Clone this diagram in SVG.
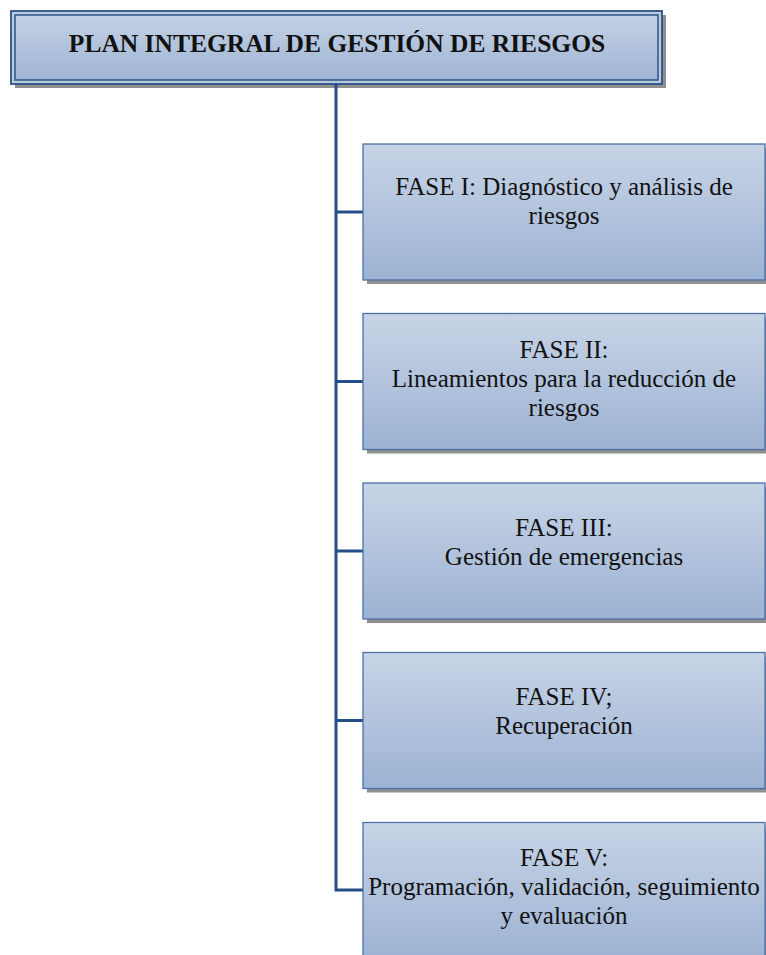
<svg xmlns="http://www.w3.org/2000/svg" width="766" height="955" viewBox="0 0 766 955">
  <defs>
    <linearGradient id="boxGrad" x1="0" y1="0" x2="0" y2="1">
      <stop offset="0" stop-color="#C7D4E6"/>
      <stop offset="1" stop-color="#9DB3D3"/>
    </linearGradient>
    <linearGradient id="titleGrad" x1="0" y1="0" x2="0" y2="1">
      <stop offset="0" stop-color="#C3D1E4"/>
      <stop offset="1" stop-color="#9FB5D4"/>
    </linearGradient>
  </defs>
  <style>
    .shadow { fill: #8F8F8F; }
    .box { fill: url(#boxGrad); stroke: #4A70A6; stroke-width: 1.3; }
    .title-outer { fill: #BACADF; stroke: #2E5185; stroke-width: 1.8; }
    .title-inner { fill: url(#titleGrad); stroke: #36598C; stroke-width: 1.6; }
    .conn { fill: none; stroke: #254E88; stroke-width: 3; }
    .t { font-family: "Liberation Serif", "Times New Roman", serif; font-size: 25px; fill: #111111; text-anchor: middle; }
    .tb { font-family: "Liberation Serif", "Times New Roman", serif; font-size: 25.5px; font-weight: bold; fill: #111111; text-anchor: middle; }
  </style>

  <g id="title">
    <rect class="shadow" x="15" y="15" width="651" height="73"/>
    <rect class="title-outer" x="11" y="11" width="651" height="73"/>
    <rect class="title-inner" x="15" y="15" width="643" height="65"/>
    <text class="tb" x="337" y="52">PLAN INTEGRAL DE GESTIÓN DE RIESGOS</text>
  </g>

  <g id="connectors">
    <path class="conn" d="M336 84 V890 H363"/>
    <path class="conn" d="M336 212 H363"/>
    <path class="conn" d="M336 381.5 H363"/>
    <path class="conn" d="M336 551 H363"/>
    <path class="conn" d="M336 720.5 H363"/>
  </g>

  <g id="fase1">
    <rect class="shadow" x="367" y="148" width="402" height="136"/>
    <rect class="box" x="363" y="144" width="402" height="136"/>
    <text class="t" x="564" y="195">FASE I: Diagnóstico y análisis de</text>
    <text class="t" x="564" y="224">riesgos</text>
  </g>

  <g id="fase2">
    <rect class="shadow" x="367" y="317.5" width="402" height="136"/>
    <rect class="box" x="363" y="313.5" width="402" height="136"/>
    <text class="t" x="564" y="358">FASE II:</text>
    <text class="t" x="564" y="387">Lineamientos para la reducción de</text>
    <text class="t" x="564" y="416">riesgos</text>
  </g>

  <g id="fase3">
    <rect class="shadow" x="367" y="487" width="402" height="136"/>
    <rect class="box" x="363" y="483" width="402" height="136"/>
    <text class="t" x="564" y="536">FASE III:</text>
    <text class="t" x="564" y="565">Gestión de emergencias</text>
  </g>

  <g id="fase4">
    <rect class="shadow" x="367" y="656.5" width="402" height="136"/>
    <rect class="box" x="363" y="652.5" width="402" height="136"/>
    <text class="t" x="564" y="705">FASE IV;</text>
    <text class="t" x="564" y="734">Recuperación</text>
  </g>

  <g id="fase5">
    <rect class="shadow" x="367" y="826.5" width="402" height="136"/>
    <rect class="box" x="363" y="822.5" width="402" height="136"/>
    <text class="t" x="564" y="866">FASE V:</text>
    <text class="t" x="564" y="895">Programación, validación, seguimiento</text>
    <text class="t" x="564" y="924">y evaluación</text>
  </g>
</svg>
